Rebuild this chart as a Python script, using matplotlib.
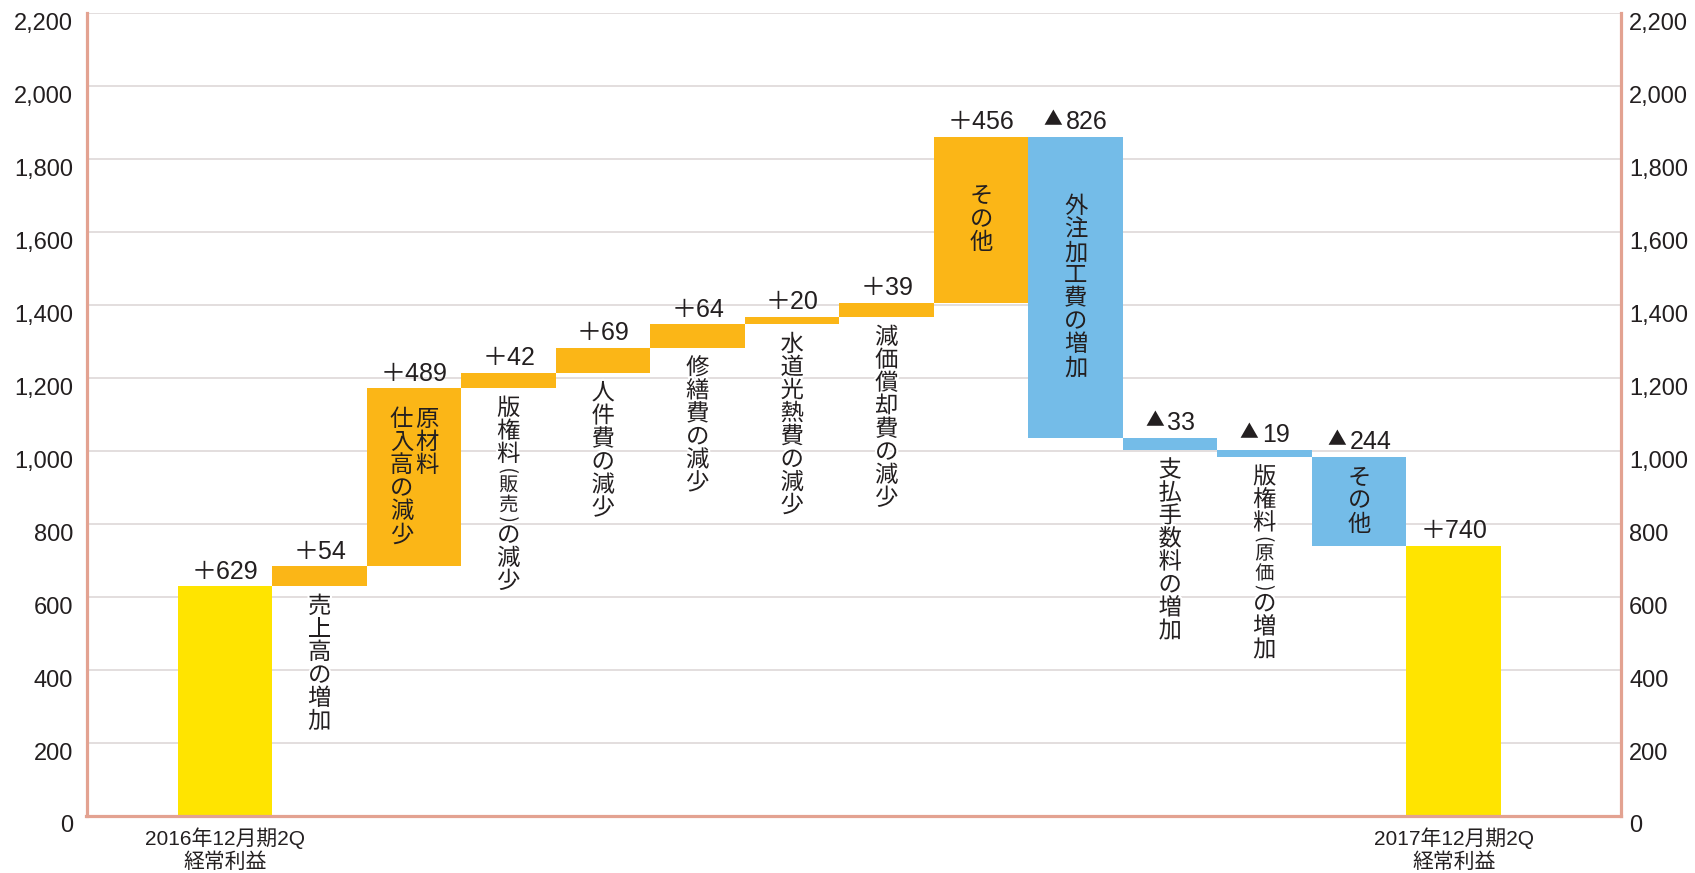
import matplotlib
matplotlib.use('Agg')
import matplotlib.pyplot as plt
import matplotlib.transforms as mtransforms
import matplotlib.patheffects as pe

plt.rcParams['font.family'] = ['Liberation Sans', 'Noto Sans CJK JP', 'DejaVu Sans']

# ---------------- data ----------------
categories = [
    "2016年12月期2Q\n経常利益",
    "売上高の増加",
    "原材料\n仕入高の減少",
    "版権料（販売）の減少",
    "人件費の減少",
    "修繕費の減少",
    "水道光熱費の減少",
    "減価償却費の減少",
    "その他",
    "外注加工費の増加",
    "支払手数料の増加",
    "版権料（原価）の増加",
    "その他",
    "2017年12月期2Q\n経常利益",
]
values = [629, 54, 489, 42, 69, 64, 20, 39, 456, -826, -33, -19, -244, 740]
is_total = [True, False, False, False, False, False, False, False,
            False, False, False, False, False, True]
label_place = ["axis", "below", "inside", "below", "below", "below", "below",
               "below", "inside", "inside", "below", "below", "inside", "axis"]
y_ticks = [0, 200, 400, 600, 800, 1000, 1200, 1400, 1600, 1800, 2000, 2200]

# ---------------- style ----------------
C_TOTAL = '#ffe400'
C_UP = '#fbb617'
C_DOWN = '#74bce8'
C_SPINE = '#e3a291'
C_GRID = '#dbd5d5'
C_TEXT = '#231f20'
JP = 'Noto Sans CJK JP'
PT = 72 / 100.0  # points per pixel

W, H = 1695, 873
fig = plt.figure(figsize=(W / 100, H / 100), dpi=100)
x_left_px, x_right_px = 86.5, 1621
y_bot_px, y_top_px = 815.5, 13.3
ax = fig.add_axes([x_left_px / W, (H - y_bot_px) / H,
                   (x_right_px - x_left_px) / W, (y_bot_px - y_top_px) / H])

bar0_px, pitch_px = 178, 94.5
ax.set_xlim((x_left_px - bar0_px) / pitch_px - 0.5,
            (x_right_px - bar0_px) / pitch_px - 0.5)
ax.set_ylim(0, 2200)

# waterfall geometry
bottoms, heights, colors = [], [], []
run = 0
for v, tot in zip(values, is_total):
    if tot:
        bottoms.append(0)
        heights.append(v)
        colors.append(C_TOTAL)
        run = v
    else:
        bottoms.append(run)
        heights.append(v)
        colors.append(C_UP if v > 0 else C_DOWN)
        run += v

xs = list(range(len(values)))
ax.bar(xs, heights, bottom=bottoms, width=1.0, color=colors,
       linewidth=0, zorder=2)

# value labels
VAL_FS = 18.0
fs_px = VAL_FS / PT
for i, v in enumerate(values):
    top = max(bottoms[i], bottoms[i] + heights[i])
    if v > 0:
        ax.annotate('＋' + str(v), xy=(i, top), xytext=(0, 5.5),
                    textcoords='offset points', ha='center', va='baseline',
                    fontsize=VAL_FS, color=C_TEXT, zorder=5)
    else:
        digits = str(abs(v))
        tri_w, gap = 18.0, 4.0
        dig_w = len(digits) * 0.556 * fs_px
        grp = tri_w + gap + dig_w
        x0 = -grp / 2.0
        ax.annotate('▲', xy=(i, top), xytext=((x0 + tri_w / 2.0) * PT, 5.5 + 9.5 * PT),
                    textcoords='offset points', ha='center', va='center',
                    fontsize=13.5, family=JP, color=C_TEXT, zorder=5)
        ax.annotate(digits, xy=(i, top), xytext=((x0 + tri_w + gap) * PT, 5.5),
                    textcoords='offset points', ha='left', va='baseline',
                    fontsize=VAL_FS, color=C_TEXT, zorder=5)


# vertical text helpers
def v_items(text, size=16.8, small=13.8):
    items = []
    insmall = False
    for ch in text:
        if ch == '（':
            items.append(('(', small, 9.0, -90))
            insmall = True
        elif ch == '）':
            items.append((')', small, 9.0, -90))
            insmall = False
        else:
            items.append((ch, small if insmall else size,
                          20.0 if insmall else 23.0, 0))
    return items


def draw_col(x, y, items, start_px, dx_px=0.0, halo=False):
    off = start_px
    effects = [pe.withStroke(linewidth=3, foreground='white')] if halo else None
    for ch, fs, pitch, rot in items:
        c = off + pitch / 2.0
        ax.annotate(ch, xy=(x, y), xytext=(dx_px * PT, -c * PT),
                    textcoords='offset points', ha='center', va='center',
                    fontsize=fs, rotation=rot, family=JP, color=C_TEXT,
                    path_effects=effects, zorder=5)
        off += pitch


for i, (cat, place) in enumerate(zip(categories, label_place)):
    lo = min(bottoms[i], bottoms[i] + heights[i])
    hi = max(bottoms[i], bottoms[i] + heights[i])
    if place == "below":
        draw_col(i, lo, v_items(cat), 9.0, halo=True)
    elif place == "inside":
        cols = cat.split("\n")
        col_items = [v_items(c) for c in cols]
        hmax = max(sum(it[2] for it in ci) for ci in col_items)
        n = len(cols)
        sp = 25.5
        for k, ci in enumerate(col_items):
            dx = (n - 1) / 2.0 * sp - k * sp
            draw_col(i, (lo + hi) / 2.0, ci, -hmax / 2.0, dx_px=dx)

# axes styling
for s in ['left', 'right', 'bottom']:
    ax.spines[s].set_color(C_SPINE)
    ax.spines[s].set_linewidth(2.3)
    ax.spines[s].set_zorder(4)
ax.spines['top'].set_visible(False)

ax.set_yticks(y_ticks)
ax.set_yticklabels([f"{v:,}" for v in y_ticks])
ax.yaxis.grid(True, color=C_GRID, linewidth=1.1, zorder=0)
ax.set_axisbelow(True)
ax.tick_params(axis='y', length=0, pad=5.8, labelsize=17, labelcolor=C_TEXT,
               labelleft=True, labelright=True)

tot_idx = [i for i, t in enumerate(is_total) if t]
ax.set_xticks(tot_idx)
ax.set_xticklabels([categories[i] for i in tot_idx])
ax.tick_params(axis='x', length=0, pad=8.5, labelsize=15, labelcolor=C_TEXT)

offL = mtransforms.ScaledTranslation(-5.5 / 100, -8.5 / 100, fig.dpi_scale_trans)
offR = mtransforms.ScaledTranslation(0, -8.5 / 100, fig.dpi_scale_trans)
for t in ax.yaxis.get_major_ticks():
    t.label1.set_transform(t.label1.get_transform() + offL)
    t.label2.set_transform(t.label2.get_transform() + offR)

fig.savefig('out.png', dpi=100, facecolor='white')
